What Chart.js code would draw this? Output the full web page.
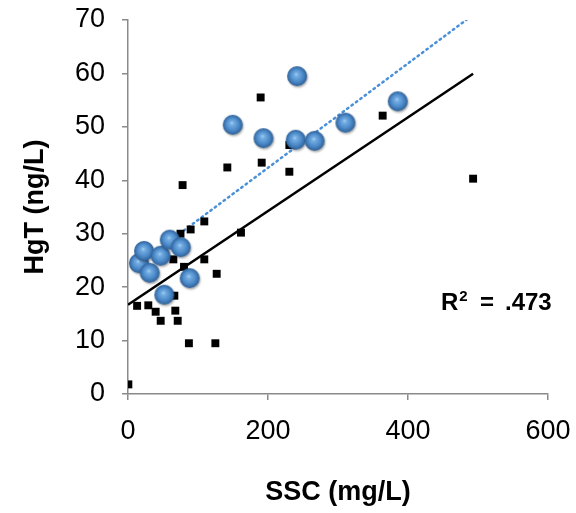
<!DOCTYPE html>
<html>
<head>
<meta charset="utf-8">
<script src="https://cdn.jsdelivr.net/npm/chart.js@4.4.1/dist/chart.umd.min.js"></script>
<style>
  html, body { margin: 0; padding: 0; background: #fff; }
  #wrap { width: 576px; height: 513px; }
</style>
</head>
<body>
<div id="wrap"><canvas id="hgChart" width="576" height="513"></canvas></div>
<script>
// Werte aus der Abbildung abgelesen
// schwarze Quadrate (SSC mg/L, HgT ng/L)
const squareSSC = [0.5, 13, 29, 39.5, 46.7, 67.6, 71, 87, 124.8, 66.2, 126.7, 80, 64.8, 109, 75, 89.5, 109, 161.4, 78, 141.9, 191, 189.5, 230.5, 230.5, 363.8, 493];
const squareHgT = [1.8, 16.5, 16.6, 15.4, 13.7, 15.6, 13.7, 9.5, 9.5, 18.4, 22.5, 23.8, 25.2, 25.2, 30, 30.8, 32.3, 30.2, 39.1, 42.4, 43.3, 55.5, 46.6, 41.6, 52.1, 40.3];

// blaue Kugeln
const sphereSSC = [17, 24.3, 32.4, 48, 53.3, 61, 76.7, 89.5, 151, 195, 241, 243, 268, 312, 386.7];
const sphereHgT = [24.3, 26.6, 22.5, 25.7, 18.4, 28.7, 27.3, 21.5, 50.2, 47.7, 47.4, 59.3, 47.2, 50.6, 54.6];

// Trendlinien (Achsenabschnitt, Steigung, x-Bereich)
const fitAll = [16.7, 0.0877];
const fitAllRange = [0, 493];
const fitBlue = [22.8, 0.0977];
const fitBlueRange = [17, 489];

const xTicks = [0, 200, 400, 600];
const yTicks = [0, 10, 20, 30, 40, 50, 60, 70];
const r2Text = '.473';

const toPoints = (xs, ys) => xs.map((x, i) => ({ x: x, y: ys[i] }));
const linePoints = (fit, range) => range.map(x => ({ x: x, y: fit[0] + fit[1] * x }));

// Kugel als Punktsymbol
const makeSphere = (r) => {
    const c = document.createElement('canvas');
    c.width = 2 * r + 6;
    c.height = 2 * r + 6;
    const g = c.getContext('2d');
    const cx = r + 2, cy = r + 2;
    g.shadowColor = 'rgba(0,0,0,0.3)';
    g.shadowBlur = 2;
    g.shadowOffsetX = 1;
    g.shadowOffsetY = 1.5;
    const grad = g.createRadialGradient(cx - 1, cy - 2, 0, cx, cy, r);
    grad.addColorStop(0, '#a9d2f3');
    grad.addColorStop(0.2, '#74ade2');
    grad.addColorStop(0.65, '#4a88c8');
    grad.addColorStop(1, '#2e5f95');
    g.fillStyle = grad;
    g.beginPath();
    g.arc(cx, cy, r, 0, Math.PI * 2);
    g.fill();
    return c;
};
const sphere = makeSphere(10);

const fontFamily = '"Liberation Sans", Arial, sans-serif';
const axisColor = '#8a8a8a';

// R²-Beschriftung
const r2Label = {
    id: 'r2Label',
    afterDraw(chart) {
        const ctx = chart.ctx;
        ctx.save();
        ctx.fillStyle = '#000';
        ctx.textBaseline = 'alphabetic';
        const y = 309.5;
        ctx.font = 'bold 24px ' + fontFamily;
        ctx.fillText('R', 441, y);
        const rw = ctx.measureText('R').width;
        ctx.fillText('=', 480, y);
        ctx.fillText(r2Text, 505, y);
        ctx.font = 'bold 15px ' + fontFamily;
        ctx.fillText('2', 441 + rw + 1, y - 9);
        ctx.restore();
    }
};

const ctx = document.getElementById('hgChart').getContext('2d');
new Chart(ctx, {
    type: 'scatter',
    data: {
        datasets: [
            {
                label: 'blau',
                data: toPoints(sphereSSC, sphereHgT),
                pointStyle: sphere,
                pointRadius: 10,
                order: 0
            },
            {
                label: 'schwarz',
                data: toPoints(squareSSC, squareHgT),
                pointStyle: 'rect',
                pointRadius: 5.6,
                backgroundColor: '#000',
                borderColor: '#000',
                borderWidth: 0,
                order: 1
            },
            {
                type: 'line',
                label: 'Trend blau',
                data: linePoints(fitBlue, fitBlueRange),
                borderColor: '#4a90d9',
                borderWidth: 2.5,
                borderDash: [1.5, 4],
                borderCapStyle: 'round',
                pointRadius: 0,
                fill: false,
                order: 2
            },
            {
                type: 'line',
                label: 'Trend alle',
                data: linePoints(fitAll, fitAllRange),
                borderColor: '#000',
                borderWidth: 2.5,
                pointRadius: 0,
                fill: false,
                order: 3
            }
        ]
    },
    options: {
        responsive: false,
        animation: false,
        events: [],
        layout: { padding: { left: 0, top: 20, right: 28, bottom: 0 } },
        plugins: {
            legend: { display: false },
            tooltip: { enabled: false }
        },
        scales: {
            x: {
                type: 'linear',
                min: 0,
                max: 600,
                afterBuildTicks: (scale) => { scale.ticks = xTicks.map(v => ({ value: v })); },
                afterFit: (scale) => {
                    scale.height = 119;
                    scale.paddingLeft = 0;
                    scale.paddingRight = 0;
                },
                border: { color: axisColor, width: 1.5 },
                grid: { drawOnChartArea: false, color: axisColor, tickLength: 6, lineWidth: 1.5 },
                ticks: { color: '#000', padding: 15, font: { family: fontFamily, size: 27 } },
                title: {
                    display: true,
                    text: 'SSC (mg/L)',
                    color: '#000',
                    padding: { top: 20 },
                    font: { family: fontFamily, size: 27, weight: 'bold' }
                }
            },
            y: {
                type: 'linear',
                min: 0,
                max: 70,
                afterBuildTicks: (scale) => { scale.ticks = yTicks.map(v => ({ value: v })); },
                afterFit: (scale) => {
                    scale.width = 128;
                    scale.paddingTop = 0;
                    scale.paddingBottom = 0;
                },
                border: { color: axisColor, width: 1.5 },
                grid: { drawOnChartArea: false, color: axisColor, tickLength: 6, lineWidth: 1.5 },
                ticks: { color: '#000', padding: 17, font: { family: fontFamily, size: 27 } },
                title: {
                    display: true,
                    text: 'HgT (ng/L)',
                    color: '#000',
                    padding: { top: 19, bottom: 0 },
                    font: { family: fontFamily, size: 27, weight: 'bold' }
                }
            }
        }
    },
    plugins: [r2Label]
});
</script>
</body>
</html>
